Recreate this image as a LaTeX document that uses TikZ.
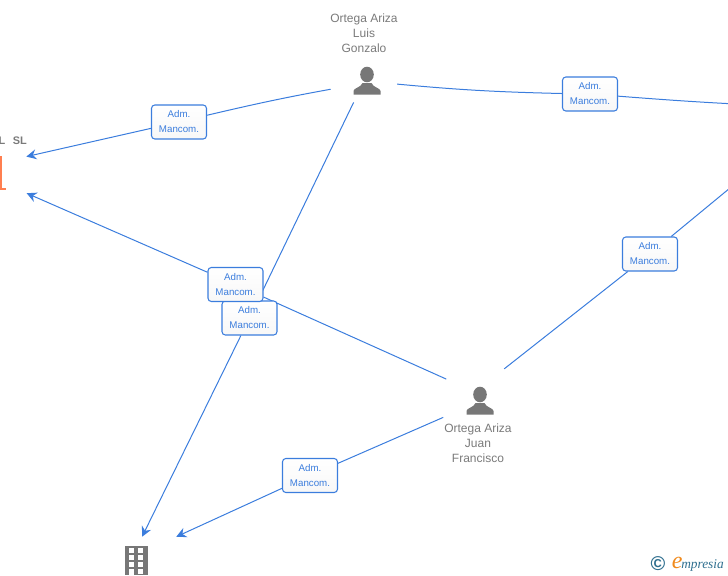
\documentclass[tikz,border=0pt]{standalone}
\usepackage{fontspec}
\setmainfont{Liberation Sans}
\newfontfamily\logofont{Liberation Serif}
\usepackage{xcolor}
\usetikzlibrary{arrows.meta,backgrounds}
\definecolor{linkblue}{HTML}{3B7DDD}
\definecolor{icongray}{HTML}{777777}
\definecolor{namegray}{HTML}{7A7A7A}
\definecolor{slorange}{HTML}{FF7F50}
\definecolor{logoblue}{HTML}{2F6F8F}
\definecolor{logoorange}{HTML}{F08A1D}
\tikzset{
    rolebox/.style={draw=linkblue, line width=0.8pt, rounded corners=2.5pt, top color=white, bottom color=black!3, minimum width=41.25pt, minimum height=25.5pt, inner sep=0pt, align=center, text=linkblue, font=\fontsize{7.3}{11.25}\selectfont},
    namelabel/.style={align=center, inner sep=0pt, text=namegray, font=\fontsize{9}{11.25}\selectfont},
    link/.style={draw=linkblue, line width=0.75pt},
    linkarrow/.style={link, -{Stealth[length=7.5pt,width=7.5pt,inset=2.5pt]}},
    hub/.style={circle, inner sep=0pt, minimum size=#1},
    personicon/.pic={
        \fill[icongray] (0,-6.5) ellipse [x radius=6.8, y radius=7.8];
        \fill[icongray] (-13.5,13.5) -- (-13.5,10) .. controls (-13.5,7) and (-6,6.5) .. (-4.5,2) -- (4.5,2) .. controls (6,6.5) and (13.5,7) .. (13.5,10) -- (13.5,13.5) -- cycle;
    }
}
\begin{document}
\begin{tikzpicture}[x=0.75pt,y=-0.75pt]
\useasboundingbox (0,0) rectangle (728,575);
\clip (0,0) rectangle (728,575);

% people
\node[hub=37.5pt] (luis) at (367,81) {};
\node[hub=60pt] (juan) at (480,401) {};
\pic at (luis) {personicon};
\pic at (juan) {personicon};
\node[namelabel] (luisname) at (364,33) {Ortega Ariza\\Luis\\Gonzalo};
\node[namelabel] (juanname) at (478,443) {Ortega Ariza\\Juan\\Francisco};

% companies
\node[hub=69.75pt] (slfirm) at (-15,172) {};
\node[hub=67.5pt] (farfirm) at (827,108) {};
\node[rectangle, inner sep=0pt, minimum width=60pt, minimum height=57pt] (tower) at (136,575) {};
\node[anchor=east, inner sep=0pt, text=namegray, font=\fontsize{8.2}{10}\selectfont\bfseries] (sllabel) at (27,141) {L\hspace{5.5pt}SL};
\fill[slorange] (-2,155.5) rectangle (2,190);
\fill[slorange] (-2,187.5) rectangle (5.5,190);
\fill[icongray] (125,545.5) rectangle (148,575);
\foreach \wy in {548,555,562,569}
    \foreach \wx in {129,138}
        \fill[white] (\wx,\wy) rectangle (\wx+5,\wy+4.5);
\fill[white] (129,569) rectangle (134,575);

% roles
\node[rolebox] (rolea) at (179,122) {Adm.\\Mancom.};
\node[rolebox] (roleb) at (590,94) {Adm.\\Mancom.};
\node[rolebox] (rolec) at (249.5,318) {Adm.\\Mancom.};
\node[rolebox] (roled) at (235.5,284.5) {Adm.\\Mancom.};
\node[rolebox] (rolee) at (650,254) {Adm.\\Mancom.};
\node[rolebox] (rolef) at (310,475.5) {Adm.\\Mancom.};

% links
\begin{scope}[on background layer]
\clip (0,0) rectangle (728,575);
\draw[link, shorten <=9pt] (luis.194) to[bend right=1.5] (rolea);
\draw[linkarrow, shorten >=-2pt] (rolea) to (slfirm.20);
\draw[link, shorten <=3.75pt] (luis.-6) to[bend right=2] (roleb);
\draw[linkarrow] (roleb) to[bend right=1] (farfirm);
\draw[link] (luis.-122) -- (rolec);
\draw[linkarrow] (rolec) -- (tower.81);
\draw[link] (juan.147) -- (roled);
\draw[linkarrow] (roled) -- (slfirm.-27);
\draw[link] (juan.53) -- (rolee);
\draw[linkarrow] (rolee) -- (farfirm);
\draw[link] (juan.204) -- (rolef);
\draw[linkarrow] (rolef) -- (tower.north east);
\end{scope}

% logo
\node[inner sep=0pt, text=logoblue, font=\fontsize{15}{16}\selectfont\bfseries] (logomark) at (658,564) {©};
\node[anchor=base west, inner sep=0pt, text=logoorange, font=\fontsize{18}{18}\logofont\itshape] (logoe) at (671.5,568.5) {e};
\node[anchor=base west, inner sep=0pt, text=logoblue, font=\fontsize{10}{10}\logofont\itshape] (logotext) at (681,568) {mpresia};
\end{tikzpicture}
\end{document}
